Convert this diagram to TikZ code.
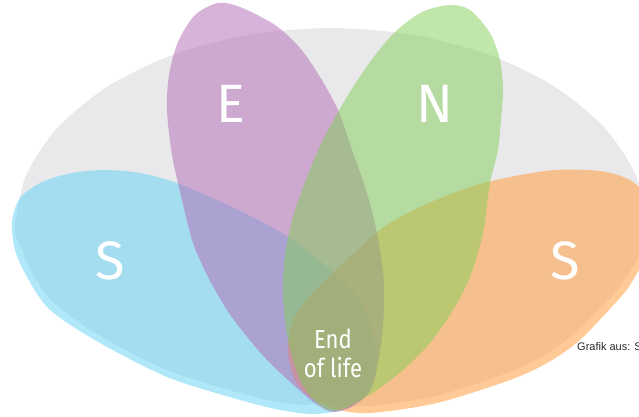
\documentclass[tikz,border=0pt]{standalone}
\usepackage{fontspec}
\setmainfont{Fira Sans}
\newfontfamily\eolfont[FakeStretch=0.85]{Fira Sans}
\newfontfamily\creditfont{Liberation Sans}
\definecolor{greybg}{RGB}{233,233,235}
\definecolor{petblue}{RGB}{98,210,246}
\definecolor{petorange}{RGB}{255,166,80}
\definecolor{petpurple}{RGB}{178,104,180}
\definecolor{petgreen}{RGB}{130,206,86}
\definecolor{creditgrey}{RGB}{40,40,40}
\tikzset{
  petal/.style={fill opacity=0.5},
  bigletter/.style={text=white, inner sep=0pt, font=\fontsize{54}{54}\selectfont},
  eollabel/.style={text=white, inner sep=0pt, align=center, font=\eolfont\fontsize{26}{29}\selectfont},
  credit/.style={text=creditgrey, inner sep=0pt, font=\creditfont\fontsize{11}{13}\selectfont}
}
\begin{document}
\begin{tikzpicture}[x=1pt, y=-1pt]
\useasboundingbox (0,0) rectangle (639,417);
\clip (0,0) rectangle (639,417);
% grey background
\fill[greybg] plot[smooth cycle] coordinates {
  (15,228) (25.8,176.2) (57.3,128) (107.6,86.6) (173,54.8) (249.2,34.8) (331,28)
  (412.8,34.8) (489,54.8) (554.4,86.6) (604.7,128) (636.2,176.2) (647,228)
  (638,258) (622,283) (611,297) (575,333) (543,356) (507,373) (436,396) (370,406)
  (333,404) (290,404) (233,391) (167,370) (102,337) (55,304) (33,274) (22,250)};
% blue petal
\fill[petblue, petal] plot[smooth cycle] coordinates {
  (12,222) (20,198) (42,182) (72,173) (105,170) (140,173) (177,183) (232,207)
  (287,236) (333,272) (360,300) (373,333) (377,362) (369,390) (348,408) (315,414)
  (280,410) (233,398) (167,377) (100,343) (50,310) (27,277) (15,250)};
% orange petal
\fill[petorange, petal, fill opacity=0.6] plot[smooth cycle] coordinates {
  (657,228) (645,258) (630,285) (618,300) (580,340) (547,363) (510,380) (437,403)
  (370,413) (335,409) (310,397) (295,380) (288,352) (292,323) (309,297) (333,273)
  (380,230) (420,207) (470,187) (510,177) (555,170) (600,171) (630,180) (650,200)};
% purple petal
\fill[petpurple, petal] plot[smooth cycle] coordinates {
  (218,3) (240,7) (275,25) (300,48) (320,77) (338,110) (352,150) (366,190)
  (377,233) (384,283) (382,337) (372,387) (353,406) (333,412) (316,404) (298,389)
  (270,363) (248,338) (227,310) (208,277) (193,243) (182,200) (172,155) (167,110)
  (169,75) (178,42) (195,15)};
% green petal
\fill[petgreen, petal] plot[smooth cycle] coordinates {
  (450,5) (470,10) (490,33) (500,60) (503,90) (501,120) (498,150) (490,183)
  (483,233) (470,277) (453,310) (430,343) (403,370) (377,390) (352,405) (333,411)
  (316,402) (300,380) (288,340) (283,295) (285,255) (293,217) (305,182) (322,142)
  (345,100) (370,62) (395,32) (422,12)};
% labels
\node[bigletter] (econ) at (231,104) {E};
\node[bigletter] (envi) at (435,104) {N};
\node[bigletter] (soc1) at (110,261) {S};
\node[bigletter] (soc2) at (565,261) {S};
\node[eollabel] (eol) at (333,353) {End\\of life};
\node[credit, anchor=base west] (src) at (577,350) {Grafik aus: SENS};
\end{tikzpicture}
\end{document}
